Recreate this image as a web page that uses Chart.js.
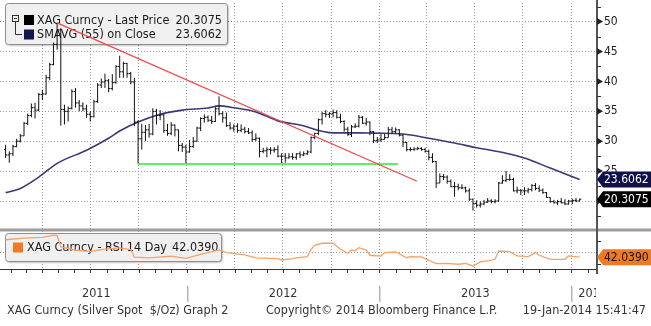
<!DOCTYPE html>
<html>
<head>
<meta charset="utf-8">
<script src="https://cdn.jsdelivr.net/npm/chart.js@4.4.1/dist/chart.umd.min.js"></script>
<style>
  html, body { margin: 0; padding: 0; background: #fff; }
</style>
</head>
<body>
<canvas id="grafico-xag" width="651" height="326"></canvas>
<script>
// Prata (XAG) semanal, de 21-jan-2011 a 17-jan-2014
var openPx = [
  28.6, 27.7, 27.9, 29.1, 30.0, 30.9, 33.0, 34.3, 35.6, 35.2,
  37.8, 37.9, 40.6, 42.8, 46.2, 48.6, 35.3, 35.0, 35.5, 38.3,
  36.4, 35.9, 35.4, 34.5, 34.1, 36.6, 39.4, 39.9, 40.1, 38.8,
  39.8, 42.5, 41.6, 43.0, 41.3, 39.9, 33.2, 30.4, 31.5, 31.9,
  31.2, 35.0, 34.3, 34.4, 31.8, 31.3, 32.7, 31.9, 29.3, 29.0,
  28.2, 29.1, 30.0, 32.2, 33.8, 34.0, 33.5, 33.3, 35.4, 34.6,
  33.9, 32.6, 32.2, 32.5, 31.8, 32.0, 31.6, 31.4, 30.3, 30.5,
  28.3, 28.4, 28.6, 28.5, 28.6, 27.5, 27.5, 27.2, 27.4, 27.3,
  27.9, 27.7, 27.9, 28.2, 30.6, 31.3, 33.6, 34.6, 34.5, 34.6,
  34.8, 34.0, 33.3, 32.0, 31.1, 32.4, 32.5, 34.0, 33.0, 33.2,
  31.6, 30.1, 30.2, 30.3, 30.6, 31.9, 31.6, 31.9, 31.0, 29.8,
  28.6, 28.6, 28.7, 28.8, 28.6, 28.3, 27.3, 26.6, 23.0, 24.1,
  24.0, 23.3, 22.4, 22.4, 22.2, 22.2, 21.7, 20.3, 19.6, 19.3,
  19.5, 19.8, 20.0, 19.9, 20.0, 23.0, 23.4, 23.6, 23.6, 21.7,
  21.8, 21.7, 21.7, 21.9, 22.6, 22.1, 21.8, 21.4, 20.6, 19.9,
  19.7, 19.9, 19.7, 19.5, 20.0, 20.1, 20.0
];
var highPx = [
  29.4, 28.3, 29.4, 30.4, 31.2, 33.2, 34.6, 36.3, 36.4, 38.1,
  38.6, 41.1, 43.1, 46.5, 49.8, 48.9, 36.1, 35.8, 38.7, 38.9,
  36.9, 36.5, 36.1, 35.0, 36.9, 39.7, 40.5, 41.3, 40.4, 41.2,
  42.7, 44.3, 43.3, 43.1, 41.6, 40.6, 33.5, 32.9, 32.7, 32.9,
  35.5, 35.4, 35.2, 34.6, 32.9, 33.2, 32.8, 31.9, 29.7, 29.4,
  30.2, 30.7, 32.4, 34.0, 34.5, 34.3, 34.2, 35.7, 37.5, 35.0,
  34.8, 33.2, 32.8, 33.0, 32.8, 32.4, 32.2, 31.8, 31.3, 30.6,
  28.9, 29.0, 29.0, 29.0, 29.3, 28.0, 28.0, 28.0, 28.0, 28.0,
  28.3, 28.3, 28.5, 30.8, 31.4, 33.8, 34.9, 35.2, 34.9, 35.3,
  35.2, 34.6, 33.5, 32.4, 32.7, 33.0, 34.4, 34.2, 33.9, 33.3,
  31.7, 30.7, 31.2, 31.2, 32.4, 32.4, 32.3, 32.0, 31.1, 29.9,
  29.0, 29.0, 29.1, 29.0, 28.9, 28.6, 28.0, 26.7, 24.6, 24.5,
  24.3, 23.6, 23.2, 22.9, 22.8, 22.4, 22.1, 20.4, 20.1, 19.9,
  20.2, 20.5, 20.3, 20.3, 23.2, 24.3, 25.0, 24.5, 23.9, 22.4,
  22.0, 22.3, 22.2, 22.8, 23.0, 22.6, 22.1, 21.5, 20.6, 20.2,
  20.2, 20.5, 20.3, 20.2, 20.4, 20.5, 20.4
];
var lowPx = [
  27.2, 26.4, 27.5, 29.0, 29.8, 30.9, 32.7, 34.0, 33.8, 35.0,
  36.9, 37.8, 40.2, 42.7, 45.3, 32.6, 32.8, 33.3, 35.3, 35.6,
  35.0, 35.0, 33.9, 33.3, 34.0, 36.4, 38.9, 38.9, 38.2, 38.5,
  39.6, 40.6, 40.6, 40.6, 39.5, 32.5, 26.2, 28.6, 30.0, 30.6,
  31.0, 32.8, 33.5, 31.4, 30.9, 31.0, 30.8, 28.3, 28.2, 26.2,
  28.1, 28.9, 29.9, 31.7, 33.1, 33.2, 32.9, 33.2, 34.3, 33.1,
  32.4, 31.9, 31.6, 31.4, 31.5, 31.3, 31.2, 29.9, 30.0, 27.3,
  28.0, 27.3, 27.8, 28.1, 27.3, 26.2, 26.4, 27.1, 26.9, 26.9,
  27.2, 27.5, 27.7, 28.0, 30.3, 31.0, 32.8, 34.0, 33.9, 34.0,
  33.8, 33.0, 31.6, 30.9, 30.7, 32.2, 32.3, 32.9, 32.6, 31.0,
  29.7, 29.7, 29.9, 30.3, 30.6, 31.2, 31.3, 30.8, 29.0, 28.3,
  28.3, 28.4, 28.5, 28.4, 28.1, 26.8, 26.4, 22.2, 23.0, 23.5,
  22.9, 22.3, 20.7, 21.8, 22.0, 21.4, 20.0, 18.4, 18.9, 18.9,
  19.3, 19.7, 19.6, 19.6, 19.9, 22.9, 23.2, 23.4, 21.6, 21.3,
  21.0, 21.0, 21.3, 21.6, 21.8, 21.5, 21.2, 20.5, 19.7, 19.6,
  19.3, 19.6, 19.3, 19.4, 19.5, 19.8, 20.0
];
var closePx = [
  27.7, 27.9, 29.1, 30.0, 30.9, 33.0, 34.3, 35.6, 35.2, 37.8,
  37.9, 40.6, 42.8, 46.2, 48.6, 35.3, 35.0, 35.5, 38.3, 36.4,
  35.9, 35.4, 34.5, 34.1, 36.6, 39.4, 39.9, 40.1, 38.8, 39.8,
  42.5, 41.6, 43.0, 41.3, 39.9, 33.2, 30.4, 31.5, 31.9, 31.2,
  35.0, 34.3, 34.4, 31.8, 31.3, 32.7, 31.9, 29.3, 29.0, 28.2,
  29.1, 30.0, 32.2, 33.8, 34.0, 33.5, 33.3, 35.4, 34.6, 33.9,
  32.6, 32.2, 32.5, 31.8, 32.0, 31.6, 31.4, 30.3, 30.5, 28.3,
  28.4, 28.6, 28.5, 28.6, 27.5, 27.5, 27.2, 27.4, 27.3, 27.9,
  27.7, 27.9, 28.2, 30.6, 31.3, 33.6, 34.6, 34.5, 34.6, 34.8,
  34.0, 33.3, 32.0, 31.1, 32.4, 32.5, 34.0, 33.0, 33.2, 31.6,
  30.1, 30.2, 30.3, 30.6, 31.9, 31.6, 31.9, 31.0, 29.8, 28.6,
  28.6, 28.7, 28.8, 28.6, 28.3, 27.3, 26.6, 23.0, 24.1, 24.0,
  23.3, 22.4, 22.4, 22.2, 22.2, 21.7, 20.3, 19.6, 19.3, 19.5,
  19.8, 20.0, 19.9, 20.0, 23.0, 23.4, 23.6, 23.6, 21.7, 21.8,
  21.7, 21.7, 21.9, 22.6, 22.1, 21.8, 21.4, 20.6, 19.9, 19.7,
  19.9, 19.7, 19.5, 20.0, 20.1, 20.0, 20.3075
];

// média móvel de 55 semanas (semana, valor)
var smaWeek = [0, 4, 9, 14, 22, 28, 31, 36, 42, 48, 55, 58, 62, 68, 74, 80, 89, 96, 100, 108, 115, 122, 128, 136, 141, 148, 156];
var smaVal = [21.4, 22.1, 24.0, 26.3, 28.5, 30.5, 31.7, 33.2, 34.5, 35.2, 35.55, 35.9, 35.6, 34.9, 33.4, 32.7, 31.4, 31.4, 31.35, 31.2, 30.5, 29.7, 28.9, 28.0, 27.2, 25.5, 23.6062];

// RSI 14 semanas
var rsiWeek = [0, 5, 10, 13, 14, 15, 19, 23, 27, 31, 34, 35, 39, 45, 49, 53, 58, 60, 65, 68, 74, 75, 78, 79, 82, 83, 84, 86, 89, 91, 93, 94, 95, 96, 98, 99, 102, 103, 106, 109, 110, 113, 117, 120, 123, 125, 127, 129, 131, 133, 134, 137, 139, 142, 144, 145, 148, 152, 153, 156];
var rsiVal = [72, 75, 76, 80, 79, 60, 54, 52, 56, 58, 55, 42, 41, 44, 40, 47, 54.5, 50, 46, 41, 39.5, 37.3, 39.5, 41, 43, 55.7, 62.5, 66, 66, 55.7, 48.8, 54.5, 53, 58.4, 54.5, 45.4, 44, 50, 51, 41.2, 43, 42.5, 31, 31.6, 30, 31.6, 27, 34, 35.6, 38.5, 52.7, 51.5, 44.2, 43, 50, 45.4, 38.5, 38.5, 44.2, 42.039];

// linhas de tendência (semana, valor)
var redWeek = [14, 111.8];
var redVal = [49.8, 23.3];
var greenWeek = [36, 106.6];
var greenVal = [26.2, 26.2];

var priceTicks = [20, 25, 30, 35, 40, 45, 50];
var yearLabels = ['2011', '2012', '2013', '2014'];

var FONT = '"DejaVu Sans Condensed", "Liberation Sans Narrow", "DejaVu Sans", sans-serif';

// semana 0 = 21-jan-2011
var t0 = Date.UTC(2011, 0, 21);
function weekOf(y, m, d) { return (Date.UTC(y, m, d) - t0) / (7 * 864e5); }

var xMin = -5.6 / 3.68;
var xMax = xMin + 596 / 3.68;

var quarterTicks = [];
var monthTicks = [];
for (var yr = 2011; yr <= 2014; yr++) {
  for (var m = 0; m < 12; m++) {
    var w = weekOf(yr, m, 1);
    if (w <= xMin || w >= xMax) continue;
    monthTicks.push(w);
    if (m % 3 === 0) quarterTicks.push(w);
  }
}

// barras OHLC como um caminho com quebras
var ohlcPath = [];
closePx.forEach(function (c, i) {
  ohlcPath.push(
    { x: i, y: lowPx[i] }, { x: i, y: highPx[i] }, { x: i, y: null },
    { x: i - 0.45, y: openPx[i] }, { x: i, y: openPx[i] }, { x: i, y: null },
    { x: i, y: c }, { x: i + 0.45, y: c }, { x: i, y: null }
  );
});
var sma = smaWeek.map(function (w, i) { return { x: w, y: smaVal[i] }; });
var rsi = rsiWeek.map(function (w, i) { return { x: w, y: rsiVal[i] }; });
var redLine = redWeek.map(function (w, i) { return { x: w, y: redVal[i] }; });
var greenLine = greenWeek.map(function (w, i) { return { x: w, y: greenVal[i] }; });

var lastPrice = closePx[closePx.length - 1];
var lastSma = smaVal[smaVal.length - 1];
var lastRsi = rsiVal[rsiVal.length - 1];

function legendBox(ctx, x, y, w, h) {
  ctx.save();
  ctx.shadowColor = 'rgba(0,0,0,0.35)';
  ctx.shadowBlur = 2;
  ctx.shadowOffsetX = 1;
  ctx.shadowOffsetY = 1;
  ctx.fillStyle = '#f0f0f0';
  ctx.beginPath();
  ctx.roundRect(x, y, w, h, 3);
  ctx.fill();
  ctx.shadowColor = 'transparent';
  ctx.strokeStyle = '#8f8f8f';
  ctx.lineWidth = 1;
  ctx.stroke();
  ctx.restore();
}

function valueTag(ctx, xr, py, text, fill, color) {
  ctx.beginPath();
  ctx.moveTo(xr + 1, py);
  ctx.lineTo(xr + 7, py - 8);
  ctx.lineTo(651, py - 8);
  ctx.lineTo(651, py + 8);
  ctx.lineTo(xr + 7, py + 8);
  ctx.closePath();
  ctx.fillStyle = fill;
  ctx.fill();
  ctx.fillStyle = color;
  ctx.textAlign = 'left';
  ctx.textBaseline = 'middle';
  ctx.fillText(text, xr + 8, py + 0.5);
}

// sem folgas automáticas: o painel ocupa exatamente a área pedida
function noPad(s) {
  s.paddingTop = 0;
  s.paddingBottom = 0;
  s.paddingLeft = 0;
  s.paddingRight = 0;
}

var decor = {
  id: 'decor',
  beforeDatasetsDraw: function (chart) {
    var ctx = chart.ctx;
    ctx.save();
    ctx.font = '12.5px ' + FONT;
    ctx.textBaseline = 'middle';

    // legenda principal
    legendBox(ctx, 5.5, 3.5, 222, 41);
    ctx.strokeStyle = '#333';
    ctx.lineWidth = 1;
    ctx.strokeRect(12.5, 15.5, 6, 6);
    ctx.beginPath();
    ctx.moveTo(14, 18.5); ctx.lineTo(17, 18.5);
    ctx.moveTo(15.5, 21.5); ctx.lineTo(15.5, 34.5); ctx.lineTo(22, 34.5);
    ctx.stroke();
    ctx.fillStyle = '#000';
    ctx.fillRect(24, 15, 10, 10);
    ctx.fillStyle = '#14144e';
    ctx.fillRect(24, 29.5, 10, 10);
    ctx.fillStyle = '#1a1a1a';
    ctx.textAlign = 'left';
    ctx.fillText('XAG Curncy - Last Price', 37, 20.5);
    ctx.fillText('SMAVG (55) on Close', 37, 34.5);
    ctx.textAlign = 'right';
    ctx.fillText(lastPrice.toFixed(4), 222, 20.5);
    ctx.fillText(lastSma.toFixed(4), 222, 34.5);

    // legenda do RSI
    legendBox(ctx, 5.5, 233.5, 216, 28);
    ctx.fillStyle = '#f07a22';
    ctx.fillRect(13, 242.5, 10, 10);
    ctx.fillStyle = '#1a1a1a';
    ctx.textAlign = 'left';
    ctx.fillText('XAG Curncy - RSI 14 Day', 27, 248);
    ctx.textAlign = 'right';
    ctx.fillText(lastRsi.toFixed(4), 218.5, 248);
    ctx.restore();
  },
  afterDraw: function (chart) {
    var ctx = chart.ctx;
    var a = chart.chartArea;
    var x = chart.scales.x, y = chart.scales.y, y2 = chart.scales.y2;
    ctx.save();

    // separador dos painéis
    ctx.fillStyle = '#9c9c9c';
    ctx.fillRect(0, y.bottom - 0.5, chart.width, 3);

    // linha de base e marcas mensais
    ctx.fillStyle = '#333';
    ctx.fillRect(0, a.bottom, a.right, 1);
    ctx.strokeStyle = '#333';
    ctx.lineWidth = 1;
    ctx.beginPath();
    monthTicks.forEach(function (w) {
      var px = Math.round(x.getPixelForValue(w)) + 0.5;
      ctx.moveTo(px, a.bottom); ctx.lineTo(px, a.bottom + 4);
    });
    ctx.stroke();

    // eixo direito
    ctx.fillStyle = '#555';
    ctx.fillRect(a.right, 0, 2, a.bottom + 5);
    ctx.strokeStyle = '#333';
    ctx.beginPath();
    for (var v = 17.5; v < 53; v += 5) {
      var py = Math.round(y.getPixelForValue(v)) + 0.5;
      ctx.moveTo(a.right + 1, py); ctx.lineTo(a.right + 5, py);
    }
    [30, 70].forEach(function (r) {
      var py = Math.round(y2.getPixelForValue(r)) + 0.5;
      ctx.moveTo(a.right + 1, py); ctx.lineTo(a.right + 5, py);
    });
    ctx.stroke();
    ctx.fillStyle = '#222';
    priceTicks.forEach(function (t) {
      var py = y.getPixelForValue(t);
      ctx.beginPath();
      ctx.moveTo(a.right + 1, py - 3.5);
      ctx.lineTo(a.right + 7, py);
      ctx.lineTo(a.right + 1, py + 3.5);
      ctx.closePath();
      ctx.fill();
    });

    // etiquetas dos últimos valores
    ctx.font = '12px ' + FONT;
    valueTag(ctx, a.right, y.getPixelForValue(lastSma), lastSma.toFixed(4), '#10104a', '#fff');
    valueTag(ctx, a.right, y.getPixelForValue(lastPrice), lastPrice.toFixed(4), '#000', '#fff');
    valueTag(ctx, a.right, y2.getPixelForValue(lastRsi), lastRsi.toFixed(4), '#f07a22', '#111');

    // anos no eixo inferior
    ctx.save();
    ctx.beginPath();
    ctx.rect(0, a.bottom + 5, a.right, 40);
    ctx.clip();
    ctx.font = '12.5px ' + FONT;
    ctx.fillStyle = '#333';
    ctx.textBaseline = 'middle';
    yearLabels.forEach(function (lab) {
      var yrN = parseInt(lab, 10);
      var sep = x.getPixelForValue(weekOf(yrN, 0, 1));
      var s = Math.max(x.getPixelForValue(0), sep);
      var e = x.getPixelForValue(weekOf(yrN + 1, 0, 1));
      if (e > a.right) {
        // ano incompleto: rótulo logo após o separador, cortado pelo eixo
        ctx.textAlign = 'left';
        ctx.fillText(lab, s + 7, 294);
      } else {
        ctx.textAlign = 'center';
        ctx.fillText(lab, (s + e) / 2, 294);
      }
      if (yrN > 2011) {
        ctx.fillStyle = '#b5b5b5';
        ctx.fillRect(Math.round(sep), 286, 1.5, 16);
        ctx.fillStyle = '#333';
      }
    });
    ctx.restore();

    // rodapé
    ctx.font = '12.5px ' + FONT;
    ctx.fillStyle = '#333';
    ctx.textBaseline = 'middle';
    ctx.textAlign = 'left';
    ctx.fillText('XAG Curncy (Silver Spot  $/Oz) Graph 2', 7, 311);
    ctx.fillText('Copyright\u00a9 2014 Bloomberg Finance L.P.', 266, 311);
    ctx.textAlign = 'right';
    ctx.fillText('19-Jan-2014 15:41:47', 646, 311);
    ctx.restore();
  }
};

var ctx = document.getElementById('grafico-xag').getContext('2d');

var grafico = new Chart(ctx, {
  type: 'line',
  data: {
    datasets: [
      { label: 'Trend', data: redLine, borderColor: '#f04848', borderWidth: 1.3, yAxisID: 'y', order: 1 },
      { label: 'Support', data: greenLine, borderColor: '#5ef05e', borderWidth: 2, yAxisID: 'y', order: 1 },
      { label: 'XAG Curncy', data: ohlcPath, borderColor: '#111', borderWidth: 1, yAxisID: 'y', order: 2 },
      { label: 'SMAVG (55)', data: sma, borderColor: '#393979', borderWidth: 1.6, cubicInterpolationMode: 'monotone', yAxisID: 'y', order: 3 },
      { label: 'RSI 14', data: rsi, borderColor: '#f5a266', borderWidth: 1.3, yAxisID: 'y2', order: 1 }
    ]
  },
  options: {
    responsive: false,
    animation: false,
    devicePixelRatio: 1,
    elements: { point: { radius: 0 }, line: { borderCapStyle: 'butt' } },
    layout: { autoPadding: false, padding: { top: 3, bottom: 57, left: 0, right: 0 } },
    plugins: { legend: { display: false }, tooltip: { enabled: false } },
    scales: {
      x: {
        type: 'linear',
        min: xMin,
        max: xMax,
        ticks: { display: false },
        grid: { color: '#9a9a9a', drawTicks: false },
        border: { display: false, dash: [1, 2] },
        afterBuildTicks: function (s) { s.ticks = quarterTicks.map(function (v) { return { value: v }; }); },
        afterFit: function (s) { s.height = 0; noPad(s); }
      },
      y: {
        type: 'linear',
        position: 'right',
        stack: 'painel',
        stackWeight: 226,
        min: 15.32,
        max: 53.11,
        ticks: { font: { family: FONT, size: 12 }, color: '#222', padding: 8 },
        grid: { color: '#9a9a9a', drawTicks: false },
        border: { display: false, dash: [1, 2] },
        afterBuildTicks: function (s) { s.ticks = priceTicks.map(function (v) { return { value: v }; }); },
        afterFit: function (s) { s.width = 55; noPad(s); }
      },
      y2: {
        type: 'linear',
        position: 'right',
        stack: 'painel',
        stackWeight: 40,
        min: 21.8,
        max: 90.5,
        ticks: { display: false },
        grid: { color: '#9a9a9a', drawTicks: false },
        border: { display: false, dash: [1, 2] },
        afterBuildTicks: function (s) { s.ticks = [{ value: 50 }]; },
        afterFit: function (s) { s.width = 55; noPad(s); }
      }
    }
  },
  plugins: [decor]
});
</script>
</body>
</html>
